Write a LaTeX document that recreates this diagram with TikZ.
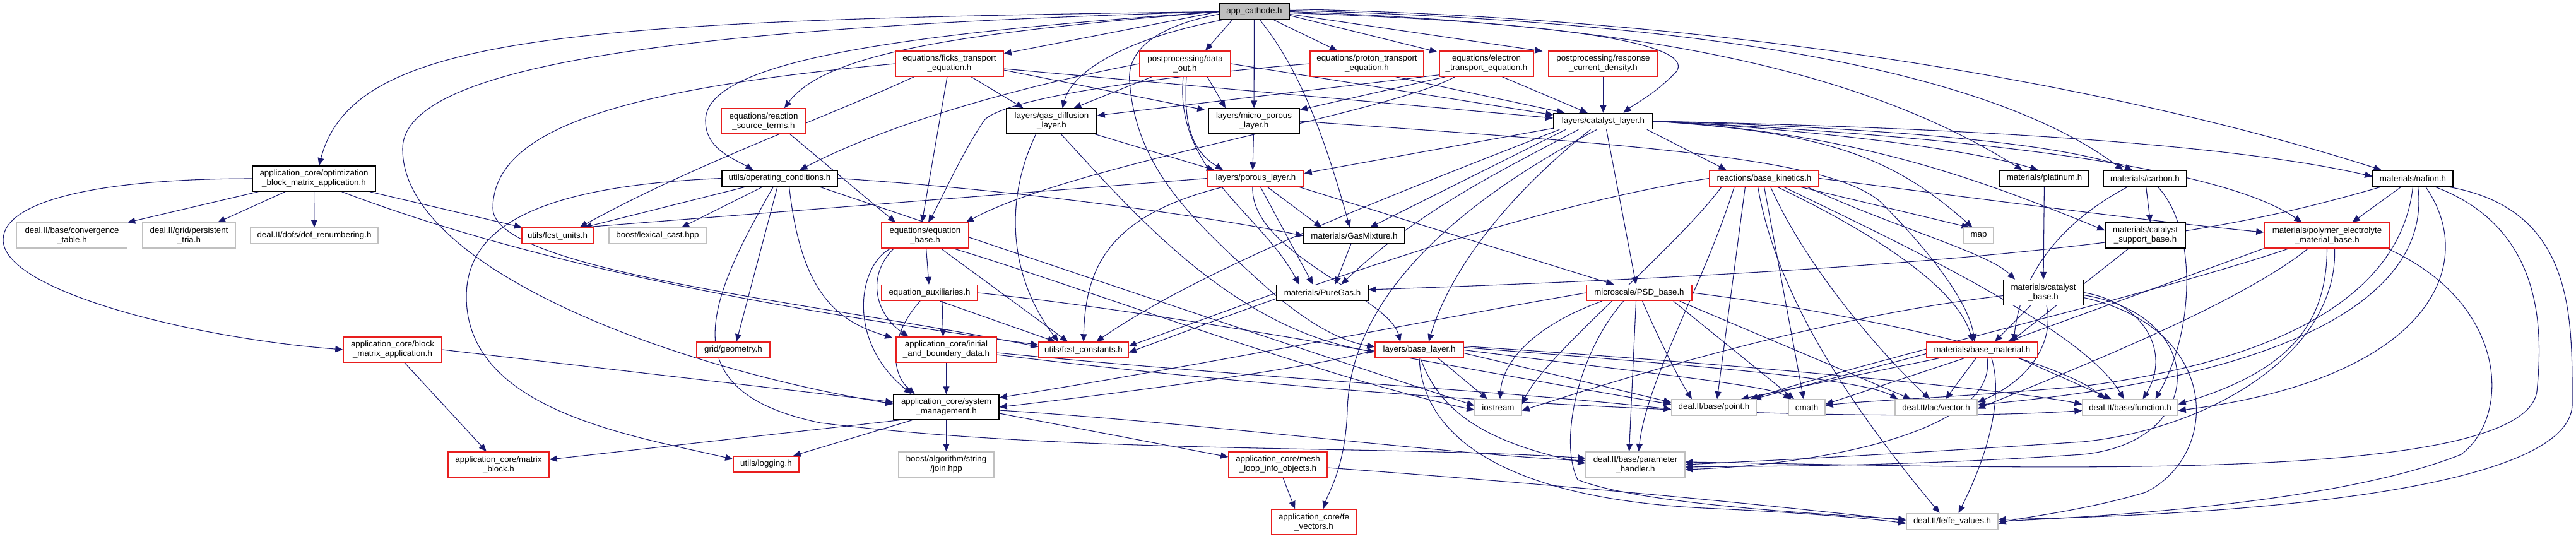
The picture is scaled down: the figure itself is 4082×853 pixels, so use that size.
\documentclass[tikz,border=0pt]{standalone}
\usepackage{fontspec}
\setmainfont{Liberation Sans}
\usetikzlibrary{arrows.meta,calc}
\definecolor{edgec}{RGB}{25,25,112}
\definecolor{redc}{RGB}{232,30,30}
\definecolor{grayc}{RGB}{192,192,192}
\definecolor{fillc}{RGB}{191,191,191}
\pgfdeclarelayer{edgelayer}
\pgfsetlayers{edgelayer,main}
\begin{document}
\begin{tikzpicture}[x=0.75pt,y=-0.75pt,
 box/.style={draw, line width=1.1pt, inner sep=0pt, align=center, fill=white, font=\fontsize{10}{11.25}\selectfont},
 bk/.style={box, draw=black},
 rd/.style={box, draw=redc},
 gy/.style={box, draw=grayc},
 h1/.style={minimum height=25*0.75pt},
 h2/.style={minimum height=40*0.75pt},
 ed/.style={draw=edgec, line width=0.8pt, -{Triangle[length=9pt,width=7.5pt]}}
]
\useasboundingbox (0,0) rectangle (4082,853);
% ---------------- nodes
\node[bk,h1,fill=fillc,minimum width=111*0.75pt] (app) at (1987.5,18.5) {app\_cathode.h};
\node[bk,h2,minimum width=195*0.75pt] (opt) at (497.5,283) {application\_core/optimization\\\_block\_matrix\_application.h};
\node[gy,h2,minimum width=175*0.75pt] (conv) at (114,373) {deal.II/base/convergence\\\_table.h};
\node[gy,h2,minimum width=147*0.75pt] (ptria) at (299.5,373) {deal.II/grid/persistent\\\_tria.h};
\node[gy,h1,minimum width=202*0.75pt] (dofr) at (498,373.5) {deal.II/dofs/dof\_renumbering.h};
\node[rd,h2,minimum width=134*0.75pt] (react) at (1210,192) {equations/reaction\\\_source\_terms.h};
\node[bk,h1,minimum width=183*0.75pt] (opcond) at (1235.5,282.5) {utils/operating\_conditions.h};
\node[rd,h1,minimum width=113*0.75pt] (units) at (883.5,373.5) {utils/fcst\_units.h};
\node[gy,h1,minimum width=154*0.75pt] (lexical) at (1042,373.5) {boost/lexical\_cast.hpp};
\node[rd,h2,minimum width=171*0.75pt] (ficks) at (1504.5,101) {equations/ficks\_transport\\\_equation.h};
\node[rd,h2,minimum width=144*0.75pt] (dataout) at (1878,101) {postprocessing/data\\\_out.h};
\node[bk,h2,minimum width=143*0.75pt] (gdl) at (1666.5,192) {layers/gas\_diffusion\\\_layer.h};
\node[bk,h2,minimum width=144*0.75pt] (mpl) at (1987,192) {layers/micro\_porous\\\_layer.h};
\node[rd,h1,minimum width=152*0.75pt] (porous) at (1990,282.5) {layers/porous\_layer.h};
\node[rd,h2,minimum width=138*0.75pt] (eqbase) at (1466,373) {equations/equation\\\_base.h};
\node[rd,h2,minimum width=180*0.75pt] (proton) at (2166,101) {equations/proton\_transport\\\_equation.h};
\node[rd,h2,minimum width=149*0.75pt] (electron) at (2355.5,101) {equations/electron\\\_transport\_equation.h};
\node[rd,h2,minimum width=173*0.75pt] (response) at (2540.5,101) {postprocessing/response\\\_current\_density.h};
\node[bk,h1,minimum width=157*0.75pt] (catalyst) at (2540.5,192) {layers/catalyst\_layer.h};
\node[bk,h1,minimum width=160*0.75pt] (gasmix) at (2146,373.5) {materials/GasMixture.h};
\node[rd,h1,minimum width=173*0.75pt] (kinetics) at (2795.5,282.5) {reactions/base\_kinetics.h};
\node[bk,h1,minimum width=141*0.75pt] (platinum) at (3239.5,282.5) {materials/platinum.h};
\node[bk,h1,minimum width=132*0.75pt] (carbon) at (3399,282.5) {materials/carbon.h};
\node[gy,h1,minimum width=47*0.75pt] (map) at (3135.5,373.5) {map};
\node[bk,h2,minimum width=127*0.75pt] (support) at (3399.5,373) {materials/catalyst\\\_support\_base.h};
\node[bk,h1,minimum width=127*0.75pt] (nafion) at (3823.5,282.5) {materials/nafion.h};
\node[rd,h2,minimum width=199*0.75pt] (polymer) at (3687.5,373) {materials/polymer\_electrolyte\\\_material\_base.h};
\node[rd,h2,minimum width=156*0.75pt] (blockapp) at (622,554) {application\_core/block\\\_matrix\_application.h};
\node[rd,h1,minimum width=116*0.75pt] (geometry) at (1162,554.5) {grid/geometry.h};
\node[rd,h2,minimum width=160*0.75pt] (matrixblock) at (790,736) {application\_core/matrix\\\_block.h};
\node[rd,h1,minimum width=104*0.75pt] (logging) at (1214,735.5) {utils/logging.h};
\node[rd,h1,minimum width=152*0.75pt] (eqaux) at (1473,464) {equation\_auxiliaries.h};
\node[rd,h2,minimum width=159*0.75pt] (initial) at (1499.5,554) {application\_core/initial\\\_and\_boundary\_data.h};
\node[rd,h1,minimum width=142*0.75pt] (constants) at (1717,554.5) {utils/fcst\_constants.h};
\node[bk,h2,minimum width=167*0.75pt] (sysman) at (1499.5,645) {application\_core/system\\\_management.h};
\node[gy,h2,minimum width=151*0.75pt] (join) at (1499.5,736) {boost/algorithm/string\\/join.hpp};
\node[rd,h2,minimum width=156*0.75pt] (meshloop) at (2025,736) {application\_core/mesh\\\_loop\_info\_objects.h};
\node[rd,h2,minimum width=134*0.75pt] (fevectors) at (2082,827) {application\_core/fe\\\_vectors.h};
\node[bk,h1,minimum width=145*0.75pt] (puregas) at (2095.5,464) {materials/PureGas.h};
\node[rd,h1,minimum width=167*0.75pt] (psd) at (2597.5,464) {microscale/PSD\_base.h};
\node[rd,h1,minimum width=140*0.75pt] (baselayer) at (2249,554.5) {layers/base\_layer.h};
\node[gy,h1,minimum width=74*0.75pt] (iostream) at (2374,645.5) {iostream};
\node[gy,h1,minimum width=134*0.75pt] (point) at (2716,645.5) {deal.II/base/point.h};
\node[gy,h2,minimum width=157*0.75pt] (param) at (2591.5,736) {deal.II/base/parameter\\\_handler.h};
\node[bk,h2,minimum width=126*0.75pt] (catbase) at (3238,463.5) {materials/catalyst\\\_base.h};
\node[rd,h1,minimum width=176*0.75pt] (basemat) at (3141,554.5) {materials/base\_material.h};
\node[gy,h1,minimum width=58*0.75pt] (cmath) at (2863,645.5) {cmath};
\node[gy,h1,minimum width=130*0.75pt] (vector) at (3068,645.5) {deal.II/lac/vector.h};
\node[gy,h1,minimum width=151*0.75pt] (function) at (3375.5,645.5) {deal.II/base/function.h};
\node[gy,h1,minimum width=145*0.75pt] (fevalues) at (3093.5,826) {deal.II/fe/fe\_values.h};
% ---------------- edges
\begin{pgfonlayer}{edgelayer}
\fill[white] (0,0) rectangle (4082,853);
% app
\draw[ed] (app.west) .. controls (900,32) and (560,55) .. ($(opt.north)+(8,0)$);
\draw[ed] (app.west) .. controls (1100,42) and (640,100) .. (638,235) .. controls (636,420) and (1050,580) .. ($(sysman.west)+(0,-5)$);
\draw[ed] (app.west) .. controls (1400,55) and (1120,100) .. (1118,190) .. controls (1117,235) and (1160,250) .. ($(opcond.north)+(-42,0)$);
\draw[ed] (app.west) .. controls (1550,50) and (1310,80) .. ($(react.north)+(33,0)$);
\draw[ed] (app.west) -- ($(ficks.east)+(0,-16)$);
\draw[ed] ($(app.south)+(-35,0)$) -- ($(dataout.north)+(32,0)$);
\draw[ed] ($(app.south west)+(5,0)$) .. controls (1790,60) and (1700,110) .. ($(gdl.north)+(17,0)$);
\draw[ed] ($(app.west)+(0,4)$) .. controls (1840,40) and (1785,75) .. (1790,130) .. controls (1800,260) and (1880,340) .. (1990,440) .. controls (2060,505) and (2120,540) .. ($(baselayer.west)+(0,-5)$);
\draw[ed] (app) -- (mpl);
\draw[ed] ($(app.south)+(9,0)$) .. controls (2060,110) and (2100,220) .. ($(gasmix.north)+(-7,0)$);
\draw[ed] ($(app.south east)+(-25,0)$) -- ($(proton.north)+(-47,0)$);
\draw[ed] ($(app.east)+(0,6)$) -- ($(electron.north west)+(-3,2)$);
\draw[ed] ($(app.east)+(0,4)$) -- ($(response.north west)+(-9,1)$);
\draw[ed] ($(app.east)+(0,2)$) .. controls (2560,38) and (2700,80) .. (2650,120) .. controls (2620,150) and (2590,165) .. ($(catalyst.north)+(32,0)$);
\draw[ed] ($(app.east)+(0,0)$) .. controls (2600,38) and (2950,110) .. ($(platinum.north)+(-35,0)$);
\draw[ed] ($(app.east)+(0,-2)$) .. controls (2700,34) and (3150,110) .. ($(carbon.north)+(-35,0)$);
\draw[ed] ($(app.east)+(0,-4)$) .. controls (2800,30) and (3400,150) .. ($(nafion.north)+(-50,0)$);
% opt
\draw[ed] (opt) -- (conv);
\draw[ed] (opt) -- (ptria);
\draw[ed] (opt) -- (dofr);
\draw[ed] (opt.west) .. controls (150,283) and (5,320) .. (5,380) .. controls (5,460) and (300,535) .. (blockapp.west);
\draw[ed] (opt) -- (units);
\draw[ed] ($(opt.south)+(44,0)$) .. controls (900,440) and (1350,505) .. ($(constants.west)+(0,-8)$);
% blockapp
\draw[ed] (blockapp) -- (matrixblock);
\draw[ed] (blockapp.east) -- ($(sysman.west)+(0,-8)$);
% react
\draw[ed] ($(react.south)+(42,0)$) -- ($(eqbase.north)+(-47,0)$);
% opcond
\draw[ed] (opcond) -- ($(units.north)+(42,0)$);
\draw[ed] (opcond) -- ($(lexical.north)+(38,0)$);
\draw[ed] (opcond.west) .. controls (850,295) and (739,360) .. (739,470) .. controls (739,650) and (1000,690) .. ($(logging.west)+(0,-8)$);
\draw[ed] (opcond) -- ($(geometry.north)+(5,0)$);
\draw[ed] (opcond.east) .. controls (1600,300) and (1900,340) .. (gasmix.west);
\draw[ed] ($(opcond.south)+(-10,0)$) .. controls (1120,480) and (1060,620) .. (1300,670) .. controls (1700,720) and (2200,705) .. ($(param.west)+(0,-10)$);
\draw[ed] ($(opcond.south)+(15,0)$) .. controls (1270,470) and (1330,510) .. ($(initial.north west)+(-5,2)$);
\draw[ed] ($(opcond.south east)+(-30,0)$) .. controls (1400,330) and (1900,500) .. ($(iostream.west)+(0,-3)$);
% ficks
\draw[ed] (ficks) -- ($(eqbase.north)+(-5,0)$);
\draw[ed] (ficks) -- ($(gdl.north)+(-45,0)$);
\draw[ed] ($(ficks.east)+(0,10)$) -- ($(mpl.north west)+(-5,3)$);
\draw[ed] ($(ficks.east)+(0,8)$) -- ($(catalyst.west)+(0,-5)$);
\draw[ed] ($(ficks.south west)+(30,0)$) .. controls (1300,190) and (1100,260) .. ($(units.north)+(35,0)$);
\draw[ed] (ficks.west) .. controls (1000,140) and (781,200) .. (781,330) .. controls (781,430) and (1300,480) .. ($(constants.west)+(0,-5)$);
% dataout
\draw[ed] (dataout.west) .. controls (1600,140) and (1400,200) .. ($(opcond.north)+(32,0)$);
\draw[ed] ($(dataout.south west)+(20,0)$) -- ($(gdl.north)+(35,0)$);
\draw[ed] ($(dataout.south)+(35,0)$) -- ($(mpl.north)+(-45,0)$);
\draw[ed] ($(dataout.south)+(2,0)$) .. controls (1875,200) and (1890,240) .. ($(porous.north)+(-52,0)$);
\draw[ed] ($(dataout.south)+(-3,0)$) .. controls (1860,270) and (2000,340) .. ($(puregas.north)+(-37,0)$);
\draw[ed] (dataout.east) -- ($(catalyst.west)+(0,-10)$);
% gdl
\draw[ed] (gdl) -- ($(porous.north)+(-66,0)$);
\draw[ed] ($(gdl.south)+(15,0)$) .. controls (1790,330) and (1950,520) .. ($(baselayer.west)+(0,3)$);
\draw[ed] ($(gdl.south)+(-25,0)$) .. controls (1590,320) and (1600,440) .. ($(constants.north)+(-40,0)$);
% mpl
\draw[ed] (mpl) -- ($(porous.north)+(-5,0)$);
\draw[ed] (mpl.east) .. controls (2600,230) and (2900,250) .. (2980,320) .. controls (3060,400) and (3120,480) .. ($(basemat.north)+(-12,0)$);
% porous
\draw[ed] (porous.west) -- ($(units.north)+(40,0)$);
\draw[ed] (porous) -- ($(gasmix.north)+(-52,0)$);
\draw[ed] (porous) -- ($(puregas.north)+(-15,0)$);
\draw[ed] ($(porous.south east)+(-10,0)$) -- ($(psd.north)+(-40,0)$);
\draw[ed] ($(porous.south)+(-5,0)$) .. controls (1980,400) and (2200,470) .. ($(baselayer.north)+(-30,0)$);
\draw[ed] ($(porous.south)+(-50,0)$) .. controls (1760,340) and (1720,420) .. (constants.north);
% proton
\draw[ed] (proton.west) .. controls (1900,115) and (1600,150) .. (1560,190) .. controls (1520,250) and (1490,320) .. ($(eqbase.north)+(5,0)$);
\draw[ed] ($(proton.south east)+(-45,0)$) -- ($(catalyst.north west)+(18,0)$);
% electron
\draw[ed] ($(electron.south west)+(0,-3)$) -- ($(gdl.east)+(0,-9)$);
\draw[ed] ($(electron.south west)+(10,0)$) -- ($(mpl.east)+(0,-18)$);
\draw[ed] ($(electron.south west)+(25,0)$) .. controls (2200,180) and (1700,260) .. ($(eqbase.north east)+(-5,0)$);
\draw[ed] ($(electron.south)+(25,0)$) -- ($(catalyst.north)+(-25,0)$);
% response
\draw[ed] (response) -- (catalyst);
% catalyst
\draw[ed] ($(catalyst.south west)+(0,-2)$) -- ($(porous.east)+(0,-8)$);
\draw[ed] ($(catalyst.south west)+(20,0)$) -- ($(gasmix.north)+(25,0)$);
\draw[ed] ($(catalyst.south east)+(-10,0)$) -- ($(kinetics.north)+(-60,0)$);
\draw[ed] (catalyst.east) .. controls (2800,200) and (3100,230) .. ($(platinum.north)+(-10,0)$);
\draw[ed] (catalyst.east) .. controls (2900,200) and (3250,220) .. ($(carbon.north)+(-20,0)$);
\draw[ed] (catalyst.east) .. controls (3000,200) and (3500,220) .. ($(nafion.west)+(0,-3)$);
\draw[ed] (catalyst.east) .. controls (2900,210) and (3000,250) .. ($(map.north)+(-10,0)$);
\draw[ed] (catalyst.east) .. controls (2950,210) and (3150,290) .. ($(support.west)+(0,-8)$);
\draw[ed] (catalyst.east) .. controls (3000,210) and (3500,250) .. ($(polymer.north)+(-40,0)$);
\draw[ed] ($(catalyst.south)+(5,0)$) -- ($(psd.north)+(-5,0)$);
\draw[ed] ($(catalyst.south west)+(40,0)$) .. controls (2400,260) and (2250,330) .. ($(puregas.north)+(30,0)$);
\draw[ed] ($(catalyst.south)+(-20,0)$) .. controls (2400,300) and (2300,420) .. ($(baselayer.north)+(15,0)$);
\draw[ed] ($(catalyst.south)+(-10,0)$) .. controls (2350,300) and (2140,450) .. (2135,650) .. controls (2132,740) and (2105,780) .. ($(fevectors.north)+(15,0)$);
\draw[ed] ($(catalyst.south west)+(10,0)$) .. controls (2150,330) and (1900,430) .. ($(constants.north)+(20,0)$);
% eqbase
\draw[ed] (eqbase) -- (eqaux);
\draw[ed] ($(eqbase.south west)+(20,0)$) .. controls (1370,440) and (1390,500) .. ($(initial.north)+(-60,0)$);
\draw[ed] ($(eqbase.south west)+(15,0)$) .. controls (1360,420) and (1340,540) .. ($(sysman.north)+(-55,0)$);
\draw[ed] ($(eqbase.south)+(25,0)$) -- ($(constants.north)+(-25,0)$);
\draw[ed] ($(eqbase.south east)+(-25,0)$) .. controls (1700,450) and (2100,600) .. ($(iostream.west)+(0,4)$);
% eqaux
\draw[ed] ($(eqaux.south)+(20,0)$) -- ($(initial.north)+(-5,0)$);
\draw[ed] ($(eqaux.south)+(-15,0)$) .. controls (1410,530) and (1410,590) .. ($(sysman.north)+(-50,0)$);
\draw[ed] ($(eqaux.south east)+(-60,0)$) -- ($(constants.north)+(-45,0)$);
\draw[ed] (eqaux.east) .. controls (1900,500) and (2400,600) .. ($(point.west)+(0,-5)$);
% initial
\draw[ed] (initial) -- (sysman);
\draw[ed] ($(initial.east)+(0,5)$) .. controls (2000,600) and (2400,620) .. ($(point.west)+(0,3)$);
\draw[ed] ($(initial.east)+(0,8)$) .. controls (2300,650) and (3000,670) .. ($(function.west)+(0,5)$);
% gasmix, puregas
\draw[ed] (gasmix) -- ($(puregas.north)+(20,0)$);
\draw[ed] (puregas.west) -- ($(constants.east)+(0,-6)$);
% psd
\draw[ed] (psd.west) .. controls (2300,500) and (1900,580) .. ($(sysman.east)+(0,-15)$);
\draw[ed] ($(psd.south west)+(25,0)$) .. controls (2420,520) and (2380,580) .. ($(iostream.north)+(3,0)$);
\draw[ed] ($(psd.south)+(-5,0)$) -- ($(param.north)+(-10,0)$);
\draw[ed] ($(psd.south)+(5,0)$) .. controls (2630,540) and (2660,600) .. ($(point.north)+(-35,0)$);
\draw[ed] ($(psd.south east)+(-30,0)$) -- ($(cmath.north)+(-20,0)$);
\draw[ed] ($(psd.south east)+(-20,0)$) -- ($(vector.north)+(-40,0)$);
\draw[ed] (psd.east) .. controls (2900,490) and (3250,560) .. ($(function.north)+(-40,0)$);
\draw[ed] ($(psd.south)+(-25,0)$) .. controls (2500,560) and (2470,700) .. (2500,760) .. controls (2600,800) and (2900,815) .. ($(fevalues.west)+(0,-3)$);
% kinetics
\draw[ed] (kinetics) -- ($(map.north)+(-15,0)$);
\draw[ed] (kinetics.east) .. controls (3100,310) and (3400,350) .. ($(polymer.west)+(0,-5)$);
\draw[ed] ($(kinetics.south)+(20,0)$) .. controls (2950,360) and (3100,450) .. ($(basemat.north)+(-15,0)$);
\draw[ed] ($(kinetics.south east)+(-20,0)$) .. controls (3000,360) and (3150,400) .. ($(catbase.north)+(-45,0)$);
\draw[ed] (kinetics.west) .. controls (2400,330) and (2000,480) .. ($(constants.east)+(0,4)$);
\draw[ed] ($(kinetics.south west)+(20,0)$) .. controls (2650,400) and (2450,560) .. ($(iostream.east)+(0,-5)$);
\draw[ed] ($(kinetics.south)+(-30,0)$) -- ($(point.north)+(5,0)$);
\draw[ed] (kinetics.south) -- ($(cmath.north)+(-5,0)$);
\draw[ed] ($(kinetics.south)+(10,0)$) .. controls (2860,420) and (2980,560) .. ($(vector.north)+(-10,0)$);
\draw[ed] ($(kinetics.south)+(30,0)$) .. controls (3000,380) and (3300,520) .. ($(function.north)+(-10,0)$);
\draw[ed] ($(kinetics.south)+(-10,0)$) .. controls (2820,500) and (2980,700) .. ($(fevalues.north)+(-20,0)$);
\draw[ed] ($(kinetics.south west)+(40,0)$) .. controls (2700,450) and (2610,600) .. ($(param.north)+(5,0)$);
% platinum, carbon, support
\draw[ed] (platinum) -- (catbase.north);
\draw[ed] (carbon) -- ($(support.north)+(8,0)$);
\draw[ed] ($(carbon.south west)+(40,0)$) .. controls (3250,360) and (3200,450) .. ($(basemat.north)+(50,0)$);
\draw[ed] ($(carbon.south)+(20,0)$) .. controls (3480,360) and (3480,520) .. ($(function.north)+(40,0)$);
\draw[ed] (support) -- ($(basemat.north)+(45,0)$);
% nafion
\draw[ed] (nafion) -- ($(polymer.north)+(40,0)$);
\draw[ed] ($(nafion.south west)+(15,0)$) .. controls (3550,360) and (3300,420) .. ($(puregas.east)+(0,-5)$);
\draw[ed] (nafion.south) .. controls (3810,420) and (3700,560) .. (3300,612) .. controls (3100,630) and (2950,635) .. ($(cmath.east)+(0,-3)$);
\draw[ed] ($(nafion.south)+(8,0)$) .. controls (3850,440) and (3700,590) .. ($(vector.east)+(0,-4)$);
\draw[ed] ($(nafion.south)+(20,0)$) .. controls (3930,420) and (3850,600) .. ($(function.east)+(0,5)$);
\draw[ed] ($(nafion.south east)+(-30,0)$) .. controls (4030,360) and (4030,520) .. (4020,620) .. controls (4000,770) and (3200,740) .. ($(param.east)+(0,-4)$);
\draw[ed] ($(nafion.south east)+(-10,0)$) .. controls (4080,330) and (4076,500) .. (4076,640) .. controls (4076,770) and (3600,815) .. ($(fevalues.east)+(0,-3)$);
% polymer
\draw[ed] (polymer.south west) -- ($(basemat.north)+(40,0)$);
\draw[ed] ($(polymer.south west)+(40,0)$) .. controls (3400,470) and (3000,560) .. ($(point.north east)+(-10,0)$);
\draw[ed] ($(polymer.south)+(-30,0)$) .. controls (3550,480) and (3300,580) .. ($(vector.east)+(0,2)$);
\draw[ed] (polymer.south) .. controls (3687,520) and (3620,590) .. ($(function.east)+(0,-5)$);
\draw[ed] ($(polymer.south)+(12,0)$) .. controls (3705,560) and (3500,680) .. (3300,700) .. controls (3000,720) and (2800,730) .. (param.east);
\draw[ed] ($(polymer.south east)+(-5,0)$) .. controls (3975,480) and (3980,660) .. (3900,720) .. controls (3700,800) and (3300,820) .. (fevalues.east);
% catbase
\draw[ed] (catbase) -- ($(basemat.north)+(20,0)$);
\draw[ed] ($(catbase.south)+(5,0)$) .. controls (3255,540) and (3220,600) .. ($(vector.east)+(0,-8)$);
\draw[ed] (catbase.east) .. controls (3400,480) and (3440,560) .. ($(function.north)+(20,0)$);
\draw[ed] ($(catbase.east)+(0,8)$) .. controls (3520,520) and (3520,720) .. (3400,780) .. controls (3300,810) and (3200,820) .. ($(fevalues.east)+(0,4)$);
\draw[ed] ($(catbase.west)+(0,5)$) .. controls (2900,500) and (2600,590) .. ($(iostream.east)+(0,5)$);
\draw[ed] ($(catbase.east)+(0,4)$) .. controls (3500,500) and (3500,700) .. (3300,720) .. controls (3000,740) and (2800,738) .. ($(param.east)+(0,4)$);
% basemat
\draw[ed] ($(basemat.west)+(0,6)$) -- ($(point.north east)+(-5,0)$);
\draw[ed] ($(basemat.south west)+(20,0)$) -- ($(point.north east)+(-25,0)$);
\draw[ed] ($(basemat.south west)+(60,0)$) -- ($(cmath.east)+(0,-5)$);
\draw[ed] ($(basemat.south)+(-10,0)$) -- ($(vector.north)+(15,0)$);
\draw[ed] ($(basemat.south east)+(-30,0)$) -- ($(function.north)+(-30,0)$);
\draw[ed] ($(basemat.south)+(8,0)$) .. controls (3165,680) and (2900,735) .. ($(param.east)+(0,8)$);
\draw[ed] ($(basemat.south)+(15,0)$) .. controls (3180,650) and (3130,760) .. ($(fevalues.north)+(10,0)$);
% baselayer
\draw[ed] (baselayer.west) .. controls (2100,580) and (1800,620) .. (sysman.east);
\draw[ed] ($(baselayer.south)+(30,0)$) -- ($(iostream.north)+(-17,0)$);
\draw[ed] ($(baselayer.east)+(0,5)$) -- ($(point.west)+(0,-8)$);
\draw[ed] ($(baselayer.south)+(2,0)$) .. controls (2280,650) and (2350,700) .. ($(param.west)+(0,-2)$);
\draw[ed] (baselayer.south) .. controls (2255,700) and (2400,790) .. (2700,805) .. controls (2850,812) and (2950,820) .. ($(fevalues.west)+(0,3)$);
\draw[ed] ($(baselayer.east)+(0,-4)$) .. controls (2700,580) and (2950,600) .. ($(vector.north west)+(5,0)$);
\draw[ed] ($(baselayer.east)+(0,-6)$) .. controls (2800,580) and (3200,620) .. ($(function.west)+(0,-5)$);
\draw[ed] (baselayer.east) .. controls (2600,590) and (2800,610) .. ($(cmath.north west)+(5,0)$);
% sysman
\draw[ed] (sysman) -- (join);
\draw[ed] ($(sysman.south west)+(10,0)$) -- ($(matrixblock.east)+(0,-8)$);
\draw[ed] ($(sysman.south west)+(30,0)$) -- ($(logging.north east)+(-10,0)$);
\draw[ed] ($(sysman.east)+(0,10)$) -- ($(meshloop.west)+(0,-12)$);
\draw[ed] ($(sysman.east)+(0,5)$) .. controls (1900,670) and (2300,720) .. ($(param.west)+(0,-6)$);
% meshloop
\draw[ed] (meshloop) -- ($(fevectors.north)+(-30,0)$);
\draw[ed] ($(meshloop.east)+(0,5)$) .. controls (2500,770) and (2800,800) .. ($(fevalues.west)+(0,-1)$);
\end{pgfonlayer}
\end{tikzpicture}
\end{document}
